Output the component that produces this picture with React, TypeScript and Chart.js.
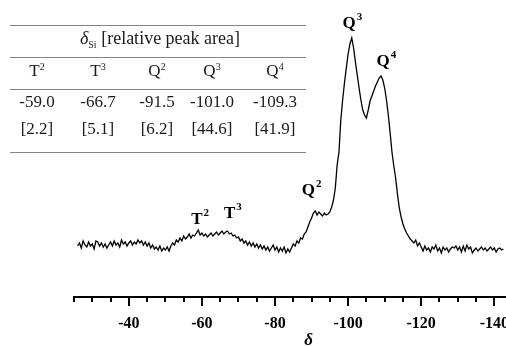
import React, { useEffect, useRef } from 'react';
import { Chart, registerables } from 'chart.js';

Chart.register(...registerables);

// 29Si chemical shift (ppm), sampled every 0.5 ppm
const shifts = [
  -26, -26.5, -27, -27.5, -28, -28.5, -29, -29.5, -30, -30.5,
  -31, -31.5, -32, -32.5, -33, -33.5, -34, -34.5, -35, -35.5,
  -36, -36.5, -37, -37.5, -38, -38.5, -39, -39.5, -40, -40.5,
  -41, -41.5, -42, -42.5, -43, -43.5, -44, -44.5, -45, -45.5,
  -46, -46.5, -47, -47.5, -48, -48.5, -49, -49.5, -50, -50.5,
  -51, -51.5, -52, -52.5, -53, -53.5, -54, -54.5, -55, -55.5,
  -56, -56.5, -57, -57.5, -58, -58.5, -59, -59.5, -60, -60.5,
  -61, -61.5, -62, -62.5, -63, -63.5, -64, -64.5, -65, -65.5,
  -66, -66.5, -67, -67.5, -68, -68.5, -69, -69.5, -70, -70.5,
  -71, -71.5, -72, -72.5, -73, -73.5, -74, -74.5, -75, -75.5,
  -76, -76.5, -77, -77.5, -78, -78.5, -79, -79.5, -80, -80.5,
  -81, -81.5, -82, -82.5, -83, -83.5, -84, -84.5, -85, -85.5,
  -86, -86.5, -87, -87.5, -88, -88.5, -89, -89.5, -90, -90.5,
  -91, -91.5, -92, -92.5, -93, -93.5, -94, -94.5, -95, -95.5,
  -96, -96.5, -97, -97.5, -98, -98.5, -99, -99.5, -100, -100.5,
  -101, -101.5, -102, -102.5, -103, -103.5, -104, -104.5, -105, -105.5,
  -106, -106.5, -107, -107.5, -108, -108.5, -109, -109.5, -110, -110.5,
  -111, -111.5, -112, -112.5, -113, -113.5, -114, -114.5, -115, -115.5,
  -116, -116.5, -117, -117.5, -118, -118.5, -119, -119.5, -120, -120.5,
  -121, -121.5, -122, -122.5, -123, -123.5, -124, -124.5, -125, -125.5,
  -126, -126.5, -127, -127.5, -128, -128.5, -129, -129.5, -130, -130.5,
  -131, -131.5, -132, -132.5, -133, -133.5, -134, -134.5, -135, -135.5,
  -136, -136.5, -137, -137.5, -138, -138.5, -139, -139.5, -140, -140.5,
  -141, -141.5, -142, -142.5,
];

// signal intensity (arbitrary units)
const intensity = [
  14, 17, 12, 19, 15, 13, 18, 14, 16, 11,
  19, 18, 14, 17, 13, 16, 12, 15, 18, 14,
  19, 15, 17, 13, 20, 16, 18, 14, 17, 19,
  15, 18, 16, 20, 17, 19, 15, 18, 14, 17,
  12, 15, 11, 13, 10, 14, 9, 12, 10, 13,
  9, 14, 17, 15, 20, 18, 22, 19, 24, 21,
  23, 26, 22, 25, 24, 27, 30, 25, 27, 24,
  26, 23, 25, 27, 24, 26, 28, 25, 27, 29,
  26, 28, 29, 26, 27, 24, 25, 22, 23, 19,
  21, 17, 19, 15, 18, 14, 17, 13, 16, 12,
  15, 11, 14, 10, 13, 9, 12, 15, 10, 13,
  8, 12, 9, 13, 7, 11, 8, 12, 16, 14,
  19, 17, 22, 21, 26, 28, 33, 38, 42, 47,
  49, 45, 48, 46, 44, 47, 45, 46, 48, 53,
  60, 72, 95, 108, 140, 160, 177, 192, 206, 216,
  222, 212, 198, 185, 172, 160, 150, 145, 142, 150,
  159, 164, 169, 174, 178, 182, 184, 180, 172, 160,
  145, 127, 108, 94, 82, 66, 52, 43, 36, 31,
  27, 24, 21, 19, 17, 20, 14, 17, 13, 9,
  14, 10, 12, 8, 13, 11, 15, 9, 12, 7,
  13, 10, 12, 8, 11, 13, 12, 14, 10, 13,
  8, 14, 9, 15, 11, 13, 7, 10, 12, 9,
  11, 13, 10, 12, 9, 11, 13, 10, 12, 8,
  11, 12, 10, 11,
];

const xMin = -143.2;
const xMax = -25;
const majorStep = 20;
const minorTickValues = [
  -25, -30, -35, -45, -50, -55, -65, -70, -75, -85, -90, -95,
  -105, -110, -115, -125, -130, -135,
];
const axisTitle = 'δ';
const axisTitleAt = -89.2;

// peak annotations
const peakNames = ['T', 'T', 'Q', 'Q', 'Q'];
const peakSups = ['2', '3', '2', '3', '4'];
const peakLabelShift = [-58.6, -67.6, -89.1, -100.3, -109.6];
const peakLabelLevel = [36, 42, 65, 232, 194];

// inset table
const tableTitle = '[relative peak area]';
const tableHeads = ['T', 'T', 'Q', 'Q', 'Q'];
const tableSups = ['2', '3', '2', '3', '4'];
const tableShifts = ['-59.0', '-66.7', '-91.5', '-101.0', '-109.3'];
const tableAreas = ['[2.2]', '[5.1]', '[6.2]', '[44.6]', '[41.9]'];

const colX = [37, 98, 157, 212, 275];
const SERIF = '"Liberation Serif", "Times New Roman", serif';

const overlayPlugin = {
  id: 'overlay',
  afterDraw(chart: any) {
    const ctx = chart.ctx as CanvasRenderingContext2D;
    const xs = chart.scales.x;
    const ys = chart.scales.y;
    const bottom = chart.chartArea.bottom;
    ctx.save();
    ctx.strokeStyle = '#000';
    ctx.lineWidth = 2;
    minorTickValues.forEach((v) => {
      const px = Math.round(xs.getPixelForValue(v));
      ctx.beginPath();
      ctx.moveTo(px, bottom);
      ctx.lineTo(px, bottom + 5);
      ctx.stroke();
    });
    ctx.fillStyle = '#000';
    ctx.textBaseline = 'alphabetic';
    ctx.textAlign = 'left';
    peakNames.forEach((n, i) => {
      const px = xs.getPixelForValue(peakLabelShift[i]);
      const py = ys.getPixelForValue(peakLabelLevel[i]);
      ctx.font = `bold 17px ${SERIF}`;
      const w = ctx.measureText(n).width;
      ctx.fillText(n, px - w / 2, py);
      ctx.font = `bold 11px ${SERIF}`;
      ctx.fillText(peakSups[i], px + w / 2 + 1, py - 8);
    });
    ctx.font = `italic bold 17px ${SERIF}`;
    ctx.textAlign = 'center';
    ctx.fillText(axisTitle, xs.getPixelForValue(axisTitleAt), 345);
    ctx.restore();
  },
};

const cell = (x: number, y: number, content: React.ReactNode, key: string, size = 17) => (
  <div
    key={key}
    style={{
      position: 'absolute',
      left: x,
      top: y - 10,
      height: 20,
      lineHeight: '20px',
      transform: 'translateX(-50%)',
      whiteSpace: 'nowrap',
      fontFamily: SERIF,
      fontSize: size,
      color: '#1a1a1a',
    }}
  >
    {content}
  </div>
);

const hline = (y: number, key: string) => (
  <div
    key={key}
    style={{
      position: 'absolute',
      left: 10,
      width: 296,
      top: y,
      height: 0,
      borderTop: '1.5px solid #858585',
    }}
  />
);

export default function App() {
  const canvasRef = useRef<HTMLCanvasElement>(null);

  useEffect(() => {
    if (!canvasRef.current) return;
    const points = shifts.map((s, i) => ({ x: s, y: intensity[i] }));
    const chart = new Chart(canvasRef.current, {
      type: 'line',
      data: {
        datasets: [
          {
            data: points,
            borderColor: '#000',
            borderWidth: 1.3,
            pointRadius: 0,
            tension: 0,
            fill: false,
          },
        ],
      },
      options: {
        animation: false,
        responsive: false,
        devicePixelRatio: 1,
        layout: { padding: { left: 74, right: 0, top: 10, bottom: 0 } },
        plugins: { legend: { display: false }, tooltip: { enabled: false } },
        scales: {
          x: {
            type: 'linear',
            reverse: true,
            min: xMin,
            max: xMax,
            afterFit: (scale: any) => {
              scale.height = 50;
              scale.paddingRight = 0;
              scale.paddingLeft = 0;
            },
            ticks: {
              stepSize: majorStep,
              includeBounds: false,
              autoSkip: false,
              maxRotation: 0,
              padding: 8,
              color: '#000',
              font: { family: SERIF, size: 16, weight: 'bold' },
            },
            grid: {
              display: true,
              drawOnChartArea: false,
              drawTicks: true,
              tickLength: 9,
              tickWidth: 2,
              tickColor: '#000',
              color: '#000',
              lineWidth: 2,
            },
            border: { display: true, color: '#000', width: 2 },
          },
          y: {
            type: 'linear',
            display: false,
            min: -37,
            max: 250,
          },
        },
      },
      plugins: [overlayPlugin],
    } as any);
    return () => chart.destroy();
  }, []);

  return (
    <div style={{ position: 'absolute', left: 0, top: 0, width: 506, height: 347, background: '#fff', overflow: 'hidden' }}>
      <canvas ref={canvasRef} width={506} height={347} style={{ position: 'absolute', left: 0, top: 0 }} />
      {hline(25, 'l1')}
      {hline(57, 'l2')}
      {hline(89, 'l3')}
      {hline(152, 'l4')}
      {cell(160, 38, (
        <span>
          <i>δ</i>
          <span style={{ fontSize: 10, position: 'relative', top: 4 }}>Si</span>
          {' ' + tableTitle}
        </span>
      ), 'title', 18)}
      {tableHeads.map((h, i) =>
        cell(colX[i], 71, (
          <span>
            {h}
            <span style={{ fontSize: 10, position: 'relative', top: -6 }}>{tableSups[i]}</span>
          </span>
        ), 'h' + i)
      )}
      {tableShifts.map((v, i) => cell(colX[i], 102, v, 'v' + i))}
      {tableAreas.map((v, i) => cell(colX[i], 129, v, 'a' + i))}
    </div>
  );
}
